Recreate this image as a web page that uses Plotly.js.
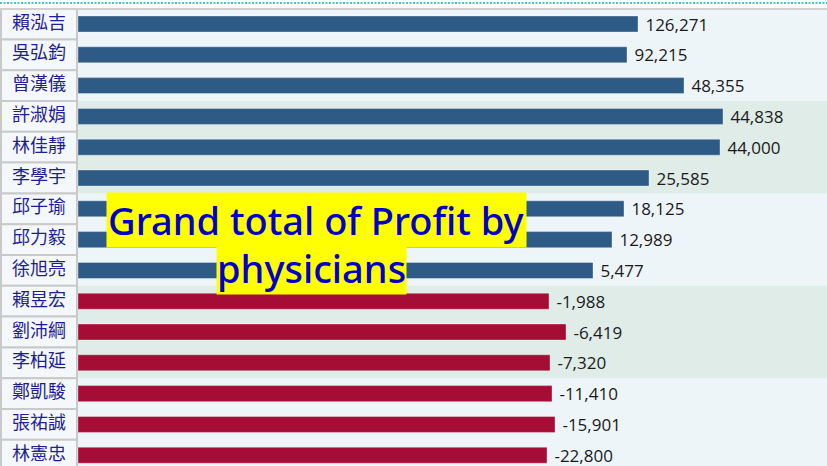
<!DOCTYPE html>
<html>
<head>
<meta charset="utf-8">
<script src="https://cdn.plot.ly/plotly-3.0.1.min.js"></script>
<style>
html,body{margin:0;padding:0;background:#ffffff;}
#chart{width:827px;height:466px;}
</style>
</head>
<body>
<div id="chart"></div>
<script>
// ---- data ----
const names = ['賴泓吉','吳弘鈞','曾漢儀','許淑娟','林佳靜','李學宇','邱子瑜','邱力毅','徐旭亮','賴昱宏','劉沛綱','李柏延','鄭凱駿','張祐誠','林憲忠'];
const profit = [126271, 92215, 48355, 44838, 44000, 25585, 18125, 12989, 5477, -1988, -6419, -7320, -11410, -15901, -22800];
// bar lengths as drawn in the reference (arbitrary units, not proportional to profit)
const barLength = [560, 549, 606, 645, 642, 571, 546, 534, 515, 471, 488, 472, 474, 477, 469];
const titleLines = ['Grand total of Profit by', 'physicians'];

// ---- styles ----
const posColor = '#2e5a86';
const negColor = '#a50c36';
const lightBand = '#eef5f9';
const greenBand = '#dfece8';
const cellFill = '#f5f8fa';
const cellLine = '#c9c9c9';
const nameColumnCenter = -39;

const fmt = v => '\u00a0' + v.toLocaleString('en-US');

const barTrace = {
  type: 'bar',
  orientation: 'h',
  y: names,
  x: barLength,
  width: 0.52,
  marker: {
    color: profit.map(v => v >= 0 ? posColor : negColor),
    line: {color: 'rgba(255,255,255,0.35)', width: 1}
  },
  text: profit.map(fmt),
  textposition: 'outside',
  constraintext: 'none',
  textfont: {family: 'Open Sans, sans-serif', size: 17, color: '#1a1a1a'},
  cliponaxis: false,
  hoverinfo: 'skip'
};

const nameTrace = {
  type: 'scatter',
  mode: 'text',
  y: names,
  x: names.map(() => nameColumnCenter),
  text: names,
  textposition: 'middle center',
  textfont: {family: 'Noto Sans CJK TC, sans-serif', size: 18, color: '#1e1e96'},
  cliponaxis: false,
  hoverinfo: 'skip'
};

const shapes = [];
// alternating bands of 3 rows
for (let g = 0; g * 3 < names.length; g++) {
  shapes.push({
    type: 'rect', layer: 'below', xref: 'paper', yref: 'y',
    x0: 0, x1: 1, y0: g * 3 - 0.5, y1: g * 3 + 2.5,
    fillcolor: g % 2 === 0 ? lightBand : greenBand, line: {width: 0}
  });
}
// name cells
names.forEach((n, i) => {
  shapes.push({
    type: 'rect', layer: 'below', xref: 'x', yref: 'y',
    x0: -77, x1: -1, y0: i - 0.5, y1: i + 0.5,
    fillcolor: cellFill, line: {color: cellLine, width: 2}
  });
});
// top decorations
shapes.push({type: 'line', xref: 'paper', yref: 'paper', x0: 0, x1: 1, y0: 1.0022, y1: 1.0022,
  line: {color: '#d0d0d0', width: 2}});
shapes.push({type: 'line', xref: 'paper', yref: 'paper', x0: 0, x1: 1, y0: 1.0154, y1: 1.0154,
  line: {color: '#4cc3cc', width: 2, dash: '2px,1.5px'}});

const titleFont = {family: 'Noto Sans, sans-serif', size: 38, weight: 500, color: '#0000c8'};
const annotations = [
  {xref: 'paper', yref: 'paper', x: 316 / 827, y: 0.5395, text: titleLines[0], showarrow: false,
   font: titleFont, bgcolor: '#ffff00', borderpad: 1},
  {xref: 'paper', yref: 'paper', x: 311 / 827, y: 0.434, text: titleLines[1], showarrow: false,
   font: titleFont, bgcolor: '#ffff00', borderpad: 0}
];

const layout = {
  width: 827, height: 466,
  margin: {l: 0, r: 0, t: 10, b: 0},
  paper_bgcolor: '#ffffff',
  plot_bgcolor: lightBand,
  showlegend: false,
  xaxis: {range: [-78, 749], visible: false, fixedrange: true},
  yaxis: {
    type: 'category', range: [14.35, -0.455],
    showticklabels: false, ticks: '', showline: false, showgrid: false, zeroline: false
  },
  shapes: shapes,
  annotations: annotations
};

Plotly.newPlot('chart', [barTrace, nameTrace], layout, {displayModeBar: false, staticPlot: true});
</script>
</body>
</html>
